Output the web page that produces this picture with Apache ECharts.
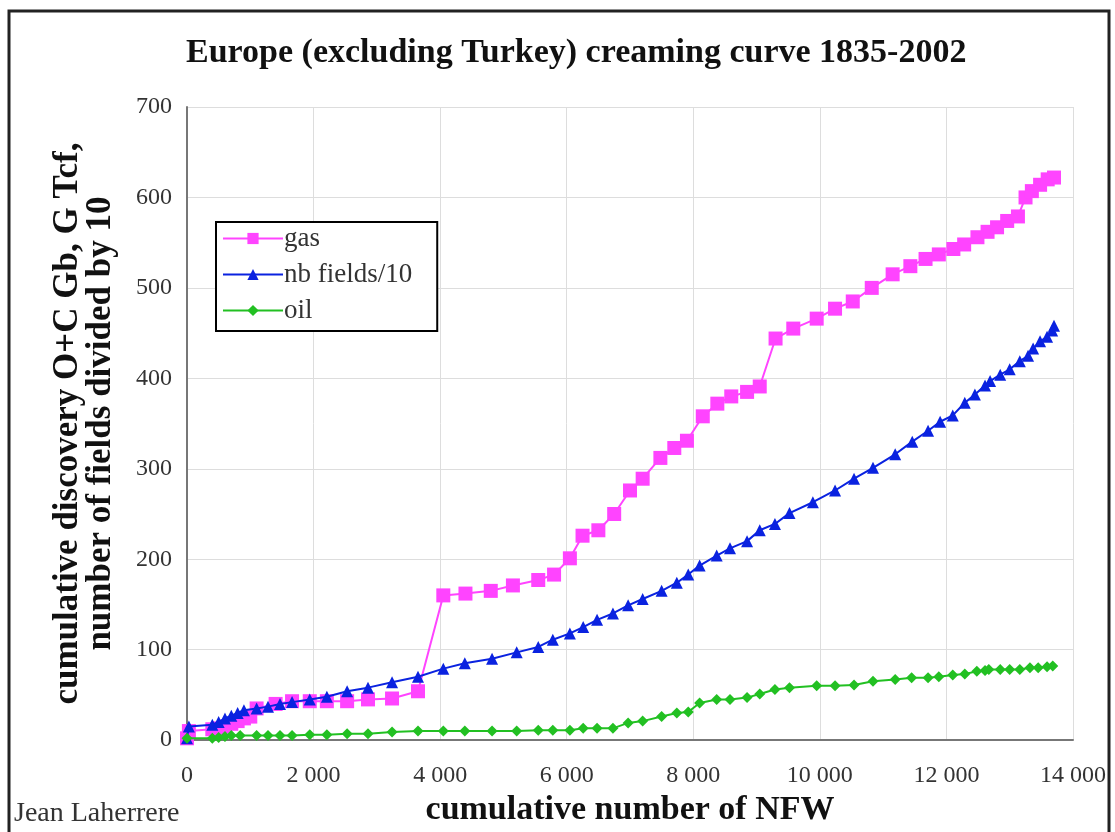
<!DOCTYPE html>
<html>
<head>
<meta charset="utf-8">
<script src="https://cdn.jsdelivr.net/npm/echarts@6/dist/echarts.min.js"></script>
<style>
html,body{margin:0;padding:0;background:#fff;overflow:hidden;}
#chart{width:1115px;height:832px;}
</style>
</head>
<body>
<div id="chart"></div>
<script>
const titleText = 'Europe (excluding Turkey) creaming curve 1835-2002';
const xAxisName = 'cumulative number of NFW';
const yAxisName = 'cumulative discovery O+C Gb, G Tcf,\nnumber of fields divided by 10';
const authorText = 'Jean Laherrere';
const seriesNames = ['gas', 'nb fields/10', 'oil'];

// [cumulative NFW, value]
const gasData = [[0,2],[30,10],[400,12],[500,13],[600,15],[700,18],[800,21],[900,24],[1000,26],[1100,35],[1400,40],[1660,43],[1940,43],[2210,43],[2530,43],[2860,45],[3240,46],[3650,54],[4050,160],[4400,162],[4800,165],[5150,171],[5550,177],[5800,183],[6050,201],[6250,226],[6500,232],[6750,250],[7000,276],[7200,289],[7480,312],[7700,323],[7900,331],[8150,358],[8380,372],[8600,380],[8850,385],[9050,391],[9300,444],[9580,455],[9950,466],[10240,477],[10520,485],[10820,500],[11150,515],[11430,524],[11670,532],[11880,537],[12110,543],[12280,548],[12490,556],[12650,562],[12800,567],[12960,574],[13130,579],[13250,600],[13350,607],[13480,614],[13600,620],[13700,622]];

const fieldsData = [[0,2],[30,15],[400,17],[500,20],[600,24],[700,27],[800,30],[900,33],[1100,35],[1280,37],[1470,40],[1660,42],[1940,45],[2210,48],[2530,54],[2860,58],[3240,64],[3650,70],[4050,79],[4390,85],[4820,90],[5210,97],[5550,103],[5780,111],[6050,118],[6260,125],[6480,133],[6730,140],[6970,149],[7200,156],[7500,165],[7740,174],[7920,183],[8100,193],[8370,204],[8580,212],[8850,220],[9050,232],[9290,239],[9520,251],[9890,263],[10240,276],[10540,289],[10840,301],[11190,316],[11460,330],[11710,342],[11900,352],[12100,359],[12290,373],[12450,382],[12610,392],[12690,397],[12850,404],[13000,410],[13160,419],[13290,425],[13370,433],[13480,441],[13590,446],[13670,453],[13700,458]];

const oilData = [[0,2],[400,2],[500,3],[600,4],[700,5],[840,5],[1100,5],[1280,5],[1470,5],[1660,5],[1940,6],[2210,6],[2530,7],[2860,7],[3240,9],[3650,10],[4050,10],[4390,10],[4820,10],[5210,10],[5550,11],[5780,11],[6050,11],[6260,13],[6480,13],[6730,13],[6970,19],[7200,21],[7500,26],[7740,30],[7920,31],[8100,41],[8370,45],[8580,45],[8850,47],[9050,51],[9290,56],[9520,58],[9950,60],[10240,60],[10540,61],[10840,65],[11190,67],[11450,69],[11710,69],[11880,70],[12100,72],[12290,73],[12480,76],[12610,77],[12670,78],[12850,78],[13000,78],[13160,78],[13320,80],[13450,80],[13590,81],[13680,82]];

const xMin = 0, xMax = 14000, xStep = 2000;
const yMin = 0, yMax = 700, yStep = 100;

const serif = '"Liberation Serif", "DejaVu Serif", serif';
const chart = echarts.init(document.getElementById('chart'), null, {renderer: 'canvas', width: 1115, height: 832});

function fmtThousands(v) {
  return String(v).replace(/\B(?=(\d{3})+(?!\d))/g, ' ');
}

chart.setOption({
  backgroundColor: '#ffffff',
  animation: false,
  title: {
    text: titleText,
    left: 181,
    top: 31,
    textStyle: {fontFamily: serif, fontSize: 34, fontWeight: 'bold', color: '#111'}
  },
  graphic: [
    {type: 'rect', shape: {x: 9, y: 11, width: 1100, height: 840},
     style: {fill: 'none', stroke: '#222', lineWidth: 3}, silent: true},
    {type: 'text', left: 14, top: 800,
     style: {text: authorText, font: '28px ' + serif, fill: '#333'}}
  ],
  legend: {
    orient: 'vertical',
    left: 216,
    top: 222,
    padding: [3, 25, 7, 6],
    itemGap: 9,
    itemWidth: 60,
    itemHeight: 14,
    borderColor: '#000',
    borderWidth: 2,
    backgroundColor: '#fff',
    textStyle: {fontFamily: serif, fontSize: 27, color: '#333', padding: [0, 0, 0, -4]},
    data: seriesNames
  },
  grid: {left: 187, right: 42, top: 107, bottom: 86, containLabel: false},
  xAxis: {
    type: 'value',
    min: xMin, max: xMax, interval: xStep,
    name: xAxisName,
    nameLocation: 'middle',
    nameGap: 52,
    nameTextStyle: {fontFamily: serif, fontSize: 34, fontWeight: 'bold', color: '#111'},
    axisLine: {show: true, lineStyle: {color: '#777', width: 2}},
    axisTick: {show: false},
    axisLabel: {fontFamily: serif, fontSize: 24, color: '#333', margin: 24, formatter: fmtThousands},
    splitLine: {show: true, lineStyle: {color: '#ddd', width: 1}}
  },
  yAxis: {
    type: 'value',
    min: yMin, max: yMax, interval: yStep,
    name: yAxisName,
    nameLocation: 'middle',
    nameRotate: 90,
    nameGap: 70,
    nameTextStyle: {fontFamily: serif, fontSize: 35, fontWeight: 'bold', color: '#111', lineHeight: 33},
    axisLine: {show: true, lineStyle: {color: '#777', width: 2}},
    axisTick: {show: false},
    axisLabel: {fontFamily: serif, fontSize: 24, color: '#333', margin: 15},
    splitLine: {show: true, lineStyle: {color: '#ddd', width: 1}}
  },
  series: [
    {
      name: seriesNames[0], type: 'line', data: gasData,
      symbol: 'rect', symbolSize: 14, z: 3,
      lineStyle: {color: '#ff44ff', width: 2},
      itemStyle: {color: '#ff44ff'}
    },
    {
      name: seriesNames[1], type: 'line', data: fieldsData,
      symbol: 'triangle', symbolSize: 12, z: 4,
      lineStyle: {color: '#0a22e0', width: 2},
      itemStyle: {color: '#0a22e0'}
    },
    {
      name: seriesNames[2], type: 'line', data: oilData,
      symbol: 'diamond', symbolSize: 11, z: 5,
      lineStyle: {color: '#22c022', width: 2},
      itemStyle: {color: '#22c022'}
    }
  ]
});
</script>
</body>
</html>
